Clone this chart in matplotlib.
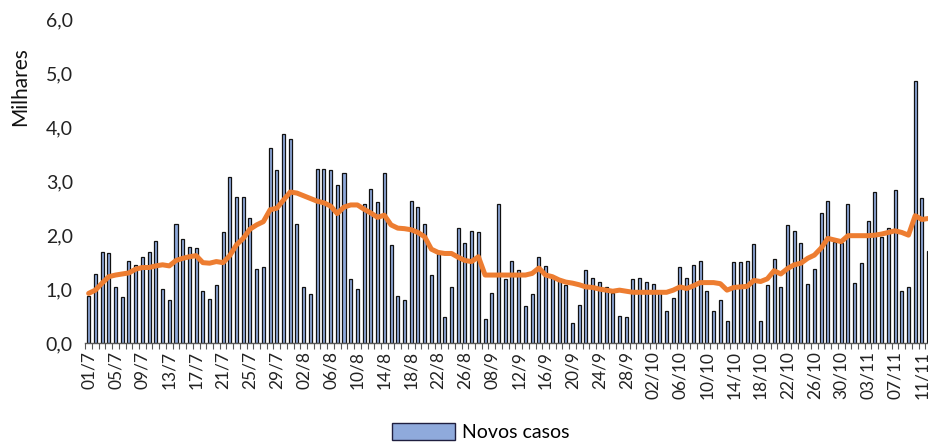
import matplotlib
matplotlib.use("Agg")
import matplotlib.pyplot as plt
from matplotlib.patches import Patch
import numpy as np

plt.rcParams['font.family'] = ['Lato', 'DejaVu Sans']

# ---- data ----
months = [("7", 1, 31), ("8", 1, 29), ("9", 8, 30), ("10", 1, 31), ("11", 1, 12)]
dates = [f"{d:02d}/{m}" for m, a, b in months for d in range(a, b + 1)]

novos_casos = [
    0.88, 1.28, 1.69, 1.66, 1.04, 0.85, 1.52, 1.45, 1.60, 1.69, 1.90, 1.00, 0.79, 2.21, 1.93, 1.78, 1.76, 0.97, 0.81, 1.07, 2.05,
    3.07, 2.71, 2.71, 2.31, 1.38, 1.40, 3.61, 3.21, 3.88, 3.78, 2.21, 1.04, 0.91, 3.23, 3.23, 3.21, 2.93, 3.15, 1.19, 1.00, 2.57,
    2.86, 2.62, 3.15, 1.81, 0.88, 0.79, 2.64, 2.52, 2.21, 1.26, 1.65, 0.48, 1.04, 2.14, 1.86, 2.07, 2.05, 0.45, 0.93, 2.57, 1.19,
    1.52, 1.35, 0.69, 0.90, 1.60, 1.43, 1.24, 1.16, 1.07, 0.38, 0.71, 1.35, 1.21, 1.14, 1.04, 0.93, 0.50, 0.48, 1.19, 1.21, 1.14,
    1.09, 0.93, 0.59, 0.83, 1.40, 1.21, 1.45, 1.52, 0.97, 0.59, 0.79, 0.40, 1.50, 1.50, 1.52, 1.83, 0.40, 1.07, 1.55, 1.04, 2.19,
    2.07, 1.86, 1.09, 1.38, 2.41, 2.64, 1.88, 1.85, 2.57, 1.12, 1.48, 2.26, 2.80, 1.97, 2.14, 2.83, 0.97, 1.03, 4.86, 2.69, 1.71,
]

media_movel = [
    0.92, 0.98, 1.11, 1.23, 1.26, 1.28, 1.30, 1.37, 1.40, 1.40, 1.43, 1.45, 1.43, 1.53, 1.57, 1.60, 1.62, 1.49, 1.48, 1.51, 1.49,
    1.62, 1.82, 1.94, 2.11, 2.19, 2.25, 2.47, 2.50, 2.65, 2.80, 2.78, 2.73, 2.68, 2.63, 2.60, 2.54, 2.40, 2.52, 2.56, 2.56, 2.48,
    2.41, 2.33, 2.37, 2.19, 2.13, 2.12, 2.10, 2.05, 1.97, 1.74, 1.68, 1.66, 1.66, 1.59, 1.53, 1.51, 1.60, 1.26, 1.26, 1.26, 1.26,
    1.26, 1.26, 1.26, 1.29, 1.39, 1.26, 1.23, 1.17, 1.13, 1.11, 1.08, 1.04, 1.03, 1.00, 0.98, 0.96, 0.98, 0.96, 0.94, 0.94, 0.94,
    0.94, 0.94, 0.94, 0.98, 1.04, 1.01, 1.06, 1.12, 1.12, 1.12, 1.10, 0.98, 1.03, 1.04, 1.05, 1.16, 1.14, 1.19, 1.34, 1.28, 1.38,
    1.45, 1.48, 1.57, 1.63, 1.76, 1.94, 1.91, 1.88, 1.99, 1.99, 1.99, 1.99, 2.00, 2.02, 2.05, 2.08, 2.05, 2.00, 2.36, 2.29, 2.31,
]

y_ticks = [0, 1, 2, 3, 4, 5, 6]
y_ticklabels = ["0,0", "1,0", "2,0", "3,0", "4,0", "5,0", "6,0"]
legend_label = "Novos casos"
y_label = "Milhares"

# ---- plot ----
fig = plt.figure(figsize=(9.29, 4.42), dpi=100)
ax = fig.add_axes([0.0918, 0.224, 0.9114, 0.732])

x = np.arange(len(dates))
bar_fill = "#8FAADC"
bar_edge = "#111111"
ax.bar(x, novos_casos, width=0.45, color=bar_fill, edgecolor=bar_edge, linewidth=0.9, zorder=2)
ax.plot(x, media_movel, color="#ED7D31", linewidth=3.6, solid_joinstyle="round",
        solid_capstyle="round", zorder=3)

ax.set_xlim(-0.5, len(dates) - 0.5)
ax.set_ylim(0, 6)
ax.set_yticks(y_ticks)
ax.set_yticklabels(y_ticklabels, fontsize=14, color="#222222")
ax.tick_params(axis="y", length=0, pad=9)

ax.set_xticks(x[::4])
ax.set_xticklabels(dates[::4], rotation=90, fontsize=12.5, color="#222222")
ax.tick_params(axis="x", which="major", length=0, pad=6)
ax.set_xticks(np.arange(-0.5, len(dates), 1.0), minor=True)
ax.tick_params(axis="x", which="minor", length=4, width=0.8, color="#595959")

for s in ["top", "right", "left"]:
    ax.spines[s].set_visible(False)
ax.spines["bottom"].set_color("#595959")
ax.spines["bottom"].set_linewidth(1.0)

fig.text(20 / 929, 1 - 87 / 442, y_label, rotation=90, ha="center", va="center",
         fontsize=15, color="#111111")

handle = Patch(facecolor=bar_fill, edgecolor="#1F1F3F", linewidth=1.0)
fig.legend([handle], [legend_label], loc="center", bbox_to_anchor=(0.518, 0.022),
           frameon=False, fontsize=14, handlelength=3.2, handleheight=0.9, handletextpad=0.4)

fig.savefig("out.png", dpi=100)
